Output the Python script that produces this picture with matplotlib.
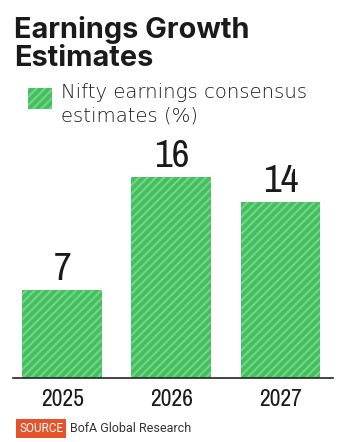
import matplotlib
matplotlib.use("Agg")
import matplotlib.pyplot as plt
from matplotlib.patches import Rectangle
from matplotlib import font_manager

years = ["2025", "2026", "2027"]
values = [7, 16, 14]
title_lines = ["Earnings Growth", "Estimates"]
legend_lines = ["Nifty earnings consensus", "estimates (%)"]
source_tag = "SOURCE"
source_text = "BofA Global Research"

names = sorted({f.name for f in font_manager.fontManager.ttflist})
cond = [n for n in names if "Condensed" in n or "Narrow" in n]
narrow = cond[0] if cond else "Roboto"

W, H = 350, 442
DPI = 100
plt.rcParams["hatch.linewidth"] = 1.6
fig = plt.figure(figsize=(W / DPI, H / DPI), dpi=DPI)

def fx(px): return px / W
def fy(py): return 1 - py / H

green = "#43BF5E"
stripe = "#72D487"
ink = "#1a1a1a"

ax = fig.add_axes([fx(13), fy(378), fx(333) - fx(13), fy(140) - fy(378)])
x = list(range(len(years)))
ax.bar(x, values, width=0.73, color=green, edgecolor=stripe, hatch="////", linewidth=0)
ax.set_xlim(-0.45, 2.48)
ax.set_ylim(0, 18.93)
for s in ["top", "right", "left"]:
    ax.spines[s].set_visible(False)
ax.spines["bottom"].set_color("#222222")
ax.spines["bottom"].set_linewidth(1.2)
ax.set_yticks([])
ax.set_xticks(x)
ax.set_xticklabels(years, fontfamily=narrow, fontsize=17, color=ink)
ax.tick_params(axis="x", length=0, pad=8)
for xi, v in zip(x, values):
    ax.annotate(str(v), (xi, v), xytext=(0, 2), textcoords="offset points",
                ha="center", va="bottom", fontfamily=narrow, fontsize=28, color=ink)

fig.text(fx(14), fy(38), title_lines[0], fontsize=20.8, fontweight="bold", family="Inter", color=ink, va="baseline")
fig.text(fx(14), fy(66), title_lines[1], fontsize=20.8, fontweight="bold", family="Inter", color=ink, va="baseline")

fig.patches.append(Rectangle((fx(28), fy(109)), fx(52) - fx(28), fy(88) - fy(109),
                             transform=fig.transFigure, facecolor=green, edgecolor=stripe,
                             hatch="////", linewidth=0))
fig.text(fx(61), fy(98), legend_lines[0], fontsize=14.1, fontweight="light", family="DejaVu Sans", color=ink, va="baseline")
fig.text(fx(61), fy(121), legend_lines[1], fontsize=14.1, fontweight="light", family="DejaVu Sans", color=ink, va="baseline")

fig.text(fx(19), fy(432), source_tag, fontsize=8.5, family="Roboto", color="white", va="baseline",
         bbox=dict(boxstyle="square,pad=0.25", facecolor="#E5532B", edgecolor="none"))
fig.text(fx(70), fy(432), source_text, fontsize=9, family="Roboto", color="#333333", va="baseline")

fig.savefig("out.png", dpi=DPI, facecolor="white")
